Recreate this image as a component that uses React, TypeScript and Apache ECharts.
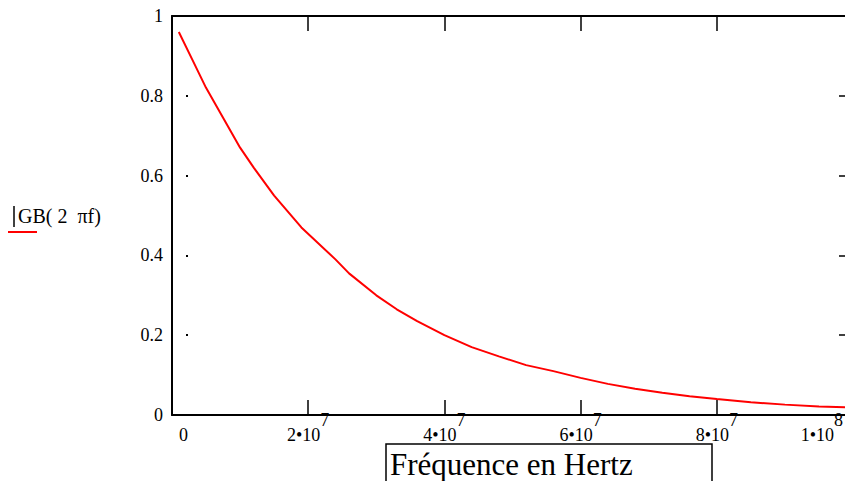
import React, { useEffect, useRef } from "react";
import * as echarts from "echarts";

// Frequency in Hz (x) and |GB(2πf)| (y)
const freqs: number[] = [
  1e6, 3e6, 5e6, 7.5e6, 10e6, 12e6, 15e6, 19e6, 24e6, 26e6, 30e6, 33e6, 36e6,
  40e6, 44e6, 48e6, 52e6, 56e6, 60e6, 64e6, 68e6, 72e6, 76e6, 80e6, 85e6,
  90e6, 95e6, 100e6,
];
const gains: number[] = [
  0.96, 0.89, 0.82, 0.745, 0.67, 0.62, 0.55, 0.47, 0.39, 0.355, 0.3, 0.265,
  0.235, 0.2, 0.17, 0.147, 0.125, 0.11, 0.093, 0.078, 0.066, 0.056, 0.047,
  0.04, 0.032, 0.026, 0.021, 0.019,
];
const xTickExponents: Record<number, string> = {
  0: "",
  20000000: "7",
  40000000: "7",
  60000000: "7",
  80000000: "7",
  100000000: "8",
};
const xTickMantissa: Record<number, string> = {
  0: "0",
  20000000: "2•10",
  40000000: "4•10",
  60000000: "6•10",
  80000000: "8•10",
  100000000: "1•10",
};
const yTitle = "GB( 2  πf)";
const xTitle = "Fréquence en Hertz";

const FONT = "'Liberation Serif', 'Times New Roman', serif";

export default function App() {
  const ref = useRef<HTMLDivElement>(null);
  useEffect(() => {
    if (!ref.current) return;
    const chart = echarts.init(ref.current, undefined, { renderer: "svg" });
    const data = freqs.map((f, i) => [f, gains[i]]);
    const lineStyle = { color: "#000", width: 2 };
    const tickStyle = { color: "#000", width: 1.5 };
    chart.setOption({
      animation: false,
      backgroundColor: "#fff",
      grid: { left: 172, top: 16, width: 681, bottom: 66 },
      xAxis: [
        {
          type: "value",
          position: "bottom",
          min: 0,
          max: 1e8,
          interval: 2e7,
          axisLine: { show: true, onZero: false, lineStyle },
          axisTick: { show: true, inside: true, length: 15, lineStyle: tickStyle },
          splitLine: { show: false },
          axisLabel: {
            margin: 10,
            fontFamily: FONT,
            fontSize: 18,
            color: "#000",
            alignMinLabel: "left",
            alignMaxLabel: "right",
            formatter: (v: number) => {
              const m = xTickMantissa[v] ?? "";
              const e = xTickExponents[v] ?? "";
              if (v === 0) return `{z|${m}}`;
              if (v === 1e8) return `{m|${m}}{e|${e}}`;
              return `{m|${m}}{s|${e}}`;
            },
            rich: {
              m: { fontFamily: FONT, fontSize: 18, color: "#000", lineHeight: 20 },
              z: { fontFamily: FONT, fontSize: 18, color: "#000", lineHeight: 20, padding: [15, 0, 15, 7] },
              s: { fontFamily: FONT, fontSize: 18, color: "#000", lineHeight: 20, padding: [0, 0, 30, 0] },
              e: { fontFamily: FONT, fontSize: 18, color: "#000", lineHeight: 20, padding: [0, 10, 30, 0] },
            },
          },
        },
        {
          type: "value",
          position: "top",
          min: 0,
          max: 1e8,
          interval: 2e7,
          axisLine: { show: true, onZero: false, lineStyle },
          axisTick: { show: true, inside: true, length: 15, lineStyle: tickStyle },
          splitLine: { show: false },
          axisLabel: { show: false },
        },
      ],
      yAxis: [
        {
          type: "value",
          position: "left",
          min: 0,
          max: 1,
          interval: 0.2,
          axisLine: { show: true, onZero: false, lineStyle },
          axisTick: { show: false },
          splitLine: { show: false },
          axisLabel: {
            margin: 9,
            fontFamily: FONT,
            fontSize: 18,
            color: "#000",
            formatter: (v: number) => (v === 0 || v === 1 ? String(v) : v.toFixed(1)),
          },
        },
        {
          type: "value",
          position: "left",
          offset: -14,
          min: 0,
          max: 1,
          interval: 0.2,
          axisLine: { show: false, onZero: false },
          axisTick: { show: true, inside: true, length: 2, lineStyle: { color: "#000", width: 2 } },
          splitLine: { show: false },
          axisLabel: { show: false },
        },
        {
          type: "value",
          position: "right",
          min: 0,
          max: 1,
          interval: 0.2,
          axisLine: { show: true, onZero: false, lineStyle },
          axisTick: { show: true, inside: true, length: 14, lineStyle: tickStyle },
          splitLine: { show: false },
          axisLabel: { show: false },
        },
      ],
      graphic: [
        { type: "line", shape: { x1: 14, y1: 206, x2: 14, y2: 227 }, style: { stroke: "#000", lineWidth: 1.5 } },
        { type: "text", x: 18, y: 216, style: { text: yTitle, font: `20px ${FONT}`, fill: "#000", textVerticalAlign: "middle" } },
        { type: "line", shape: { x1: 8, y1: 232, x2: 37, y2: 232 }, style: { stroke: "#ff0000", lineWidth: 2 } },
        { type: "rect", shape: { x: 386, y: 444, width: 326, height: 60 }, style: { fill: "#fff", stroke: "#000", lineWidth: 1.5 } },
        { type: "text", x: 390, y: 464, style: { text: xTitle, font: `31px ${FONT}`, fill: "#000", textVerticalAlign: "middle" } },
      ],
      series: [
        {
          type: "line",
          xAxisIndex: 0,
          yAxisIndex: 0,
          data,
          showSymbol: false,
          lineStyle: { color: "#ff0000", width: 2 },
          itemStyle: { color: "#ff0000" },
        },
      ],
    });
    return () => chart.dispose();
  }, []);
  return (
    <div style={{ position: "fixed", left: 0, top: 0, width: 845, height: 481, overflow: "hidden", background: "#fff" }}>
      <div ref={ref} style={{ width: 880, height: 481 }} />
    </div>
  );
}
